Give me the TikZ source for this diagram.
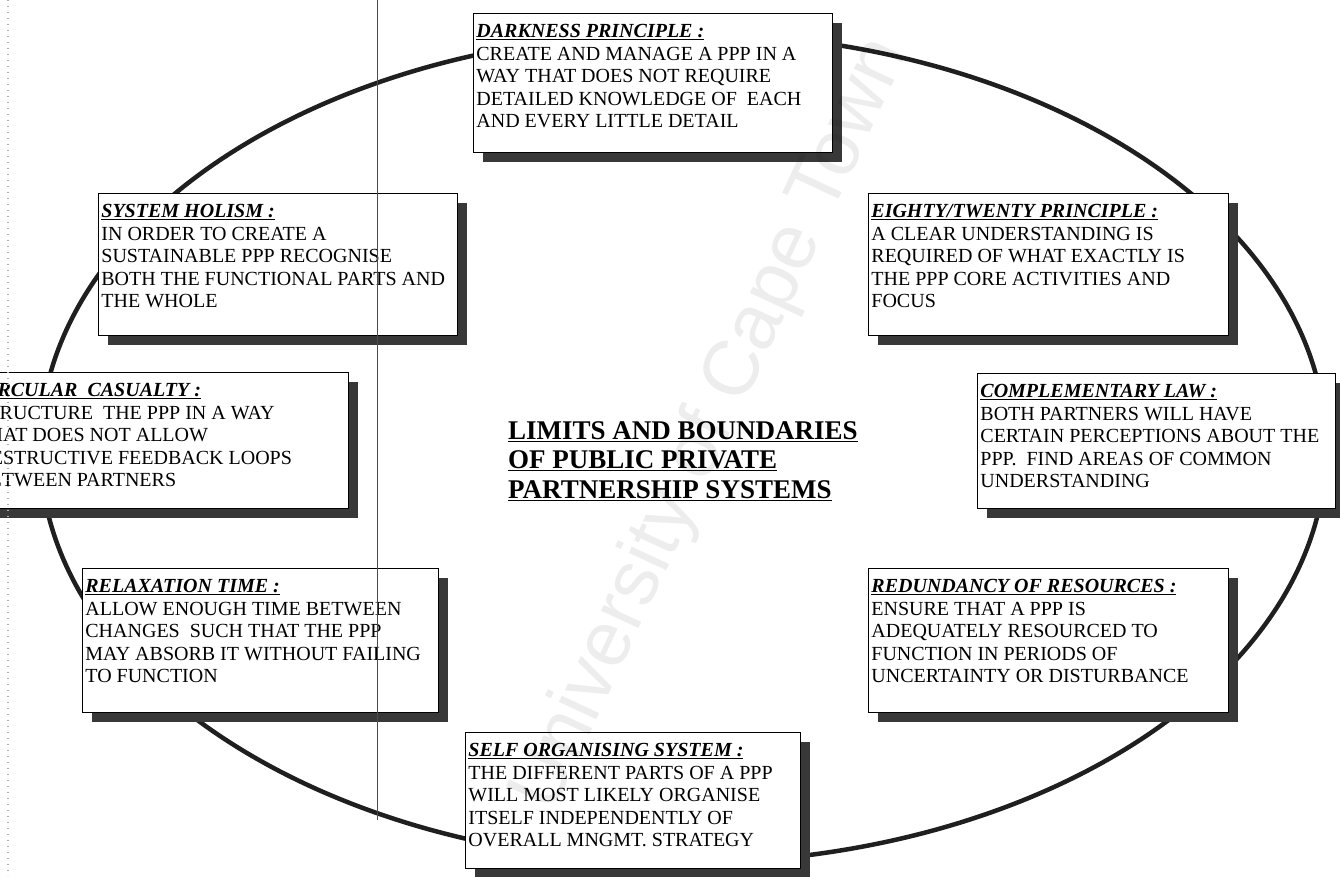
\documentclass[tikz,border=0pt]{standalone}
\usepackage{fontspec}
\setmainfont{Liberation Serif}
\newfontfamily\stampfont{Liberation Sans}
\usetikzlibrary{shadows}

% one pixel of the layout grid = 1pt, y grows downwards
\tikzset{
  x=1pt, y=-1pt,
  principle/.style={draw=black, line width=0.8pt, fill=white,
    inner xsep=3pt, inner ysep=0pt, anchor=north west,
    font=\fontsize{20}{22.6}\selectfont,
    drop shadow={shadow xshift=10pt, shadow yshift=-10pt, opacity=1, fill=black!78}},
  rim/.style={line width=4.5pt, draw=black!88},
  heading/.style={anchor=north west, align=left, inner sep=0pt,
    font=\fontsize{27}{29.5}\selectfont\bfseries},
  fold/.style={draw=black!70, line width=1pt},
  speckle/.style={draw=black!30, line width=1.2pt, dash pattern=on 1pt off 5pt},
  stamp/.style={rotate=65, opacity=0.07, font=\stampfont\fontsize{78}{78}\selectfont}
}
% #1 width, #2 height, #3 heading, #4 body lines
\newcommand{\principlebox}[4]{%
  \parbox[t][#2pt][t]{#1pt}{\rule{0pt}{24pt}\underline{\textbf{\textit{#3}}}\\#4}}

\begin{document}
\begin{tikzpicture}
  \useasboundingbox (0,0) rectangle (1340,876);
  \clip (0,0) rectangle (1340,876);
  \fill[white] (0,0) rectangle (1340,876);

  % the ring that links the principles
  \coordinate (centre) at (683,448);
  \draw[rim] (centre) ellipse [x radius=643pt, y radius=415pt];

  % principles round the ring
  \node[principle] (darkness) at (473,13)
    {\principlebox{353}{139}{DARKNESS PRINCIPLE :}{CREATE AND MANAGE A PPP IN A\\WAY THAT DOES NOT REQUIRE\\DETAILED KNOWLEDGE OF\ \ EACH\\AND EVERY LITTLE DETAIL}};
  \node[principle] (holism) at (98,193)
    {\principlebox{353}{142}{SYSTEM HOLISM :}{IN ORDER TO CREATE A\\SUSTAINABLE PPP RECOGNISE\\BOTH THE FUNCTIONAL PARTS AND\\THE WHOLE}};
  \node[principle] (eighty) at (868,193)
    {\principlebox{354}{142}{EIGHTY/TWENTY PRINCIPLE :}{A CLEAR UNDERSTANDING IS\\REQUIRED OF WHAT EXACTLY IS\\THE PPP CORE ACTIVITIES AND\\FOCUS}};
  \node[principle] (circular) at (-27,372)
    {\principlebox{369}{136}{CIRCULAR\ \ CASUALTY :}{STRUCTURE\ \ THE PPP IN A WAY\\THAT DOES NOT ALLOW\\DESTRUCTIVE FEEDBACK LOOPS\\BETWEEN PARTNERS}};
  \node[principle] (complementary) at (977,373)
    {\principlebox{352}{135}{COMPLEMENTARY LAW :}{BOTH PARTNERS WILL HAVE\\CERTAIN PERCEPTIONS ABOUT THE\\PPP.\ \ FIND AREAS OF COMMON\\UNDERSTANDING}};
  \node[principle] (relaxation) at (82,568)
    {\principlebox{350}{144}{RELAXATION TIME :}{ALLOW ENOUGH TIME BETWEEN\\CHANGES\ \ SUCH THAT THE PPP\\MAY ABSORB IT WITHOUT FAILING\\TO FUNCTION}};
  \node[principle] (redundancy) at (868,568)
    {\principlebox{354}{144}{REDUNDANCY OF RESOURCES :}{ENSURE THAT A PPP IS\\ADEQUATELY RESOURCED TO\\FUNCTION IN PERIODS OF\\UNCERTAINTY OR DISTURBANCE}};
  \node[principle] (selforg) at (465,732)
    {\principlebox{329}{136}{SELF ORGANISING SYSTEM :}{THE DIFFERENT PARTS OF A PPP\\WILL MOST LIKELY ORGANISE\\ITSELF INDEPENDENTLY OF\\OVERALL MNGMT. STRATEGY}};

  % central heading
  \node[heading] (title) at (508,421)
    {\underline{LIMITS AND BOUNDARIES}\\\underline{OF PUBLIC PRIVATE}\\\underline{PARTNERSHIP SYSTEMS}};

  % page fold and binding edge
  \coordinate (fold top) at (377,0);
  \coordinate (fold bottom) at (377,820);
  \draw[fold] (fold top) -- (fold bottom);
  \coordinate (edge top) at (8,0);
  \coordinate (edge bottom) at (8,876);
  \draw[speckle] (edge top) -- (edge bottom);

  % institutional stamp across the sheet
  \node[stamp] (stampmark) at (712,425) {University of Cape Town};
\end{tikzpicture}
\end{document}
